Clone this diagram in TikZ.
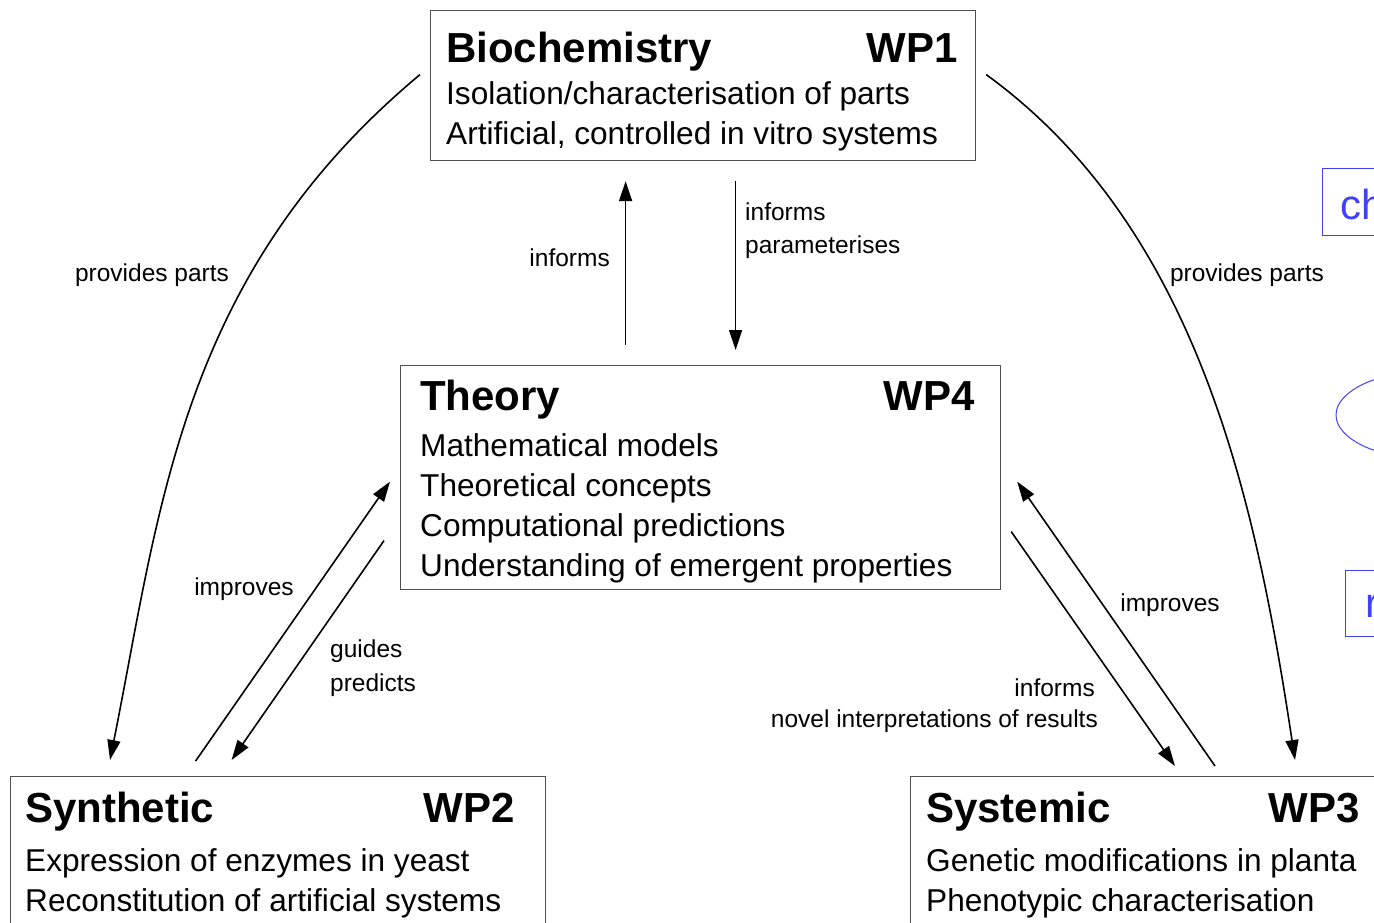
\documentclass[tikz,border=0pt]{standalone}
\usepackage{fontspec}
\setmainfont{Liberation Sans}
\usetikzlibrary{arrows.meta, positioning}
\definecolor{wpblue}{RGB}{65,65,245}
\definecolor{boxgray}{RGB}{80,80,80}

\begin{document}
\begin{tikzpicture}[x=1pt, y=-1pt, inner sep=0pt,
	box/.style={draw=boxgray, line width=1.2pt, anchor=north west, rectangle},
	head/.style={font=\fontsize{42}{42}\selectfont\bfseries},
	item/.style={font=\fontsize{31.6}{40}\selectfont},
	lbl/.style={font=\fontsize{24.5}{30}\selectfont},
	arr/.style={-{Triangle[length=20pt,width=13pt]}, line width=1.6pt},
	bluebox/.style={box, draw=wpblue},
	bluetxt/.style={text=wpblue, font=\fontsize{42}{42}\selectfont}]
	\useasboundingbox (0,0) rectangle (1374,922);
	\clip (0,0) rectangle (1374,922);

	\node[box, minimum width=545, minimum height=150] (bio) at (430,10) {};
	\node[head, anchor=base west] (bioT) at (446,62) {Biochemistry};
	\node[head, anchor=base east] (bioW) at (958,62) {WP1};
	\node[item, anchor=base west] (bio1) at (446,104) {Isolation/characterisation of parts};
	\node[item, anchor=base west] (bio2) at (446,144) {Artificial, controlled in vitro systems};

	\node[box, minimum width=600, minimum height=224] (theo) at (400,365) {};
	\node[head, anchor=base west] (theoT) at (420,410) {Theory};
	\node[head, anchor=base east] (theoW) at (975,410) {WP4};
	\node[item, anchor=base west] (theo1) at (420,456) {Mathematical models};
	\node[item, anchor=base west] (theo2) at (420,496) {Theoretical concepts};
	\node[item, anchor=base west] (theo3) at (420,536) {Computational predictions};
	\node[item, anchor=base west] (theo4) at (420,576) {Understanding of emergent properties};

	\node[box, minimum width=535, minimum height=200] (syn) at (10,776) {};
	\node[head, anchor=base west] (synT) at (25,822) {Synthetic};
	\node[head, anchor=base east] (synW) at (515,822) {WP2};
	\node[item, anchor=base west] (syn1) at (25,871) {Expression of enzymes in yeast};
	\node[item, anchor=base west] (syn2) at (25,911) {Reconstitution of artificial systems};

	\node[box, minimum width=470, minimum height=200] (sys) at (910,776) {};
	\node[head, anchor=base west] (sysT) at (926,822) {Systemic};
	\node[head, anchor=base east] (sysW) at (1360,822) {WP3};
	\node[item, anchor=base west] (sys1) at (926,871) {Genetic modifications in planta};
	\node[item, anchor=base west] (sys2) at (926,911) {Phenotypic characterisation};

	% cut-off pieces on the right
	\node[bluebox, minimum width=120, minimum height=67] (chbox) at (1322,168) {};
	\node[bluetxt, anchor=base west] (chtxt) at (1340,219) {ch};
	\draw[wpblue, line width=1pt] (1436,415) ellipse [x radius=100, y radius=45];
	\node[bluebox, minimum width=100, minimum height=66] (rbox) at (1345,570) {};
	\node[bluetxt, anchor=base west] (rtxt) at (1365,617) {r};

	% connectors
	\draw[arr] ([shift={(-10,-11)}]bio.west) .. controls +(-240,200) and +(50,-250) .. ([shift={(100,-16)}]syn.north west);
	\draw[arr] ([shift={(10,-11)}]bio.east) .. controls +(215,156) and +(-38,-250) .. ([shift={(385,-16)}]sys.north west);
	\draw[arr] ([shift={(-75,-20)}]theo.north) -- ([shift={(-77.5,20)}]bio.south);
	\draw[arr] ([shift={(32.5,20)}]bio.south) -- ([shift={(35,-15)}]theo.north);
	\draw[arr] ([shift={(-82.5,-15)}]syn.north) -- ([shift={(-10,4)}]theo.west);
	\draw[arr] ([shift={(-16,63)}]theo.west) -- ([shift={(-46.5,-16)}]syn.north);
	\draw[arr] ([shift={(10,54)}]theo.east) -- ([shift={(265,-10)}]sys.north west);
	\draw[arr] ([shift={(305,-10)}]sys.north west) -- ([shift={(16,4)}]theo.east);

	\node[lbl, anchor=base] (pp1) at (152,281) {provides parts};
	\node[lbl, anchor=base] (pp2) at (1247,281) {provides parts};
	\node[lbl, anchor=base east] (inf1) at (610,266) {informs};
	\node[lbl, anchor=base west] (inf2) at (745,220) {informs};
	\node[lbl, anchor=base west] (par) at (745,253) {parameterises};
	\node[lbl, anchor=base] (imp1) at (244,595) {improves};
	\node[lbl, anchor=base west] (gui) at (330,657) {guides};
	\node[lbl, anchor=base west] (pre) at (330,691) {predicts};
	\node[lbl, anchor=base east] (inf3) at (1095,696) {informs};
	\node[lbl, anchor=base east] (nov) at (1098,727) {novel interpretations of results};
	\node[lbl, anchor=base] (imp2) at (1170,611) {improves};
	\end{tikzpicture}
\end{document}
